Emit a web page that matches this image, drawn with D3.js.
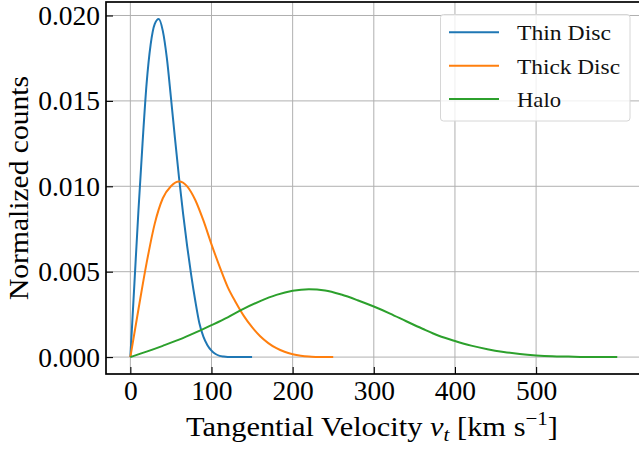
<!DOCTYPE html>
<html>
<head>
<meta charset="utf-8">
<script src="https://cdn.jsdelivr.net/npm/d3@7"></script>
<style>
  html, body { margin: 0; padding: 0; background: #fff; }
  svg { display: block; }
  svg text { font-family: "Liberation Serif", "Times New Roman", "DejaVu Serif", serif; }
</style>
</head>
<body>
<svg id="chart" width="639" height="449"></svg>
<script>
// ---- data ----
const xTicks = [0, 100, 200, 300, 400, 500];
const yTicks = [0.000, 0.005, 0.010, 0.015, 0.020];

const seriesNames = ["Thin Disc", "Thick Disc", "Halo"];
const seriesColors = ["#1f77b4", "#ff7f0e", "#2ca02c"];

const thinV = [0, 5, 10, 15, 20, 25, 30, 35, 40, 45, 50, 55, 60, 65, 70, 75, 80, 85, 90, 95, 100, 105, 110, 115, 120, 130, 140, 150];
const thinY = [0, 0.0043, 0.0086, 0.0125, 0.0160, 0.0183, 0.0195, 0.0198, 0.0191, 0.0175, 0.0152, 0.0128, 0.0105, 0.0084, 0.0065, 0.0048, 0.0033, 0.0020, 0.0012, 0.0007, 0.00038, 0.00018, 0.00007, 0.00003, 0.00001, 0, 0, 0];

const thickV = [0, 10, 20, 30, 40, 50, 60, 70, 80, 90, 100, 110, 120, 130, 140, 150, 160, 170, 180, 190, 200, 210, 220, 230, 240, 250];
const thickY = [0, 0.0028, 0.0055, 0.0078, 0.0093, 0.0100, 0.01028, 0.0100, 0.0092, 0.0080, 0.0066, 0.0053, 0.0041, 0.0032, 0.0024, 0.00175, 0.00122, 0.00082, 0.00052, 0.00031, 0.00017, 0.00008, 0.00003, 0.00001, 0, 0];

const haloV = [0, 20, 40, 60, 80, 100, 120, 140, 160, 180, 200, 220, 240, 260, 280, 300, 320, 340, 360, 380, 400, 420, 440, 460, 480, 500, 520, 540, 560, 580, 600];
const haloY = [0, 0.00032, 0.00066, 0.00102, 0.00143, 0.00187, 0.00233, 0.00284, 0.00328, 0.00364, 0.00388, 0.00397, 0.00390, 0.00366, 0.00333, 0.00296, 0.00255, 0.00210, 0.00166, 0.00125, 0.00094, 0.00067, 0.00046, 0.00030, 0.00018, 0.00010, 0.00005, 0.00003, 0.00001, 0.00001, 0];

const seriesV = [thinV, thickV, haloV];
const seriesY = [thinY, thickY, haloY];

// ---- layout ----
const svg = d3.select("#chart");
const pL = 106, pR = 641.6, pT = 2, pB = 374;

const x = d3.scaleLinear().domain([-30, 630]).range([pL, pR]);
const y = d3.scaleLinear().domain([-0.00099, 0.02079]).range([pB, pT]);

// grid
const grid = svg.append("g");
grid.selectAll("line.vg").data(xTicks).join("line")
  .attr("x1", d => x(d)).attr("x2", d => x(d))
  .attr("y1", pT).attr("y2", pB)
  .attr("stroke", "#b0b0b0").attr("stroke-width", 1);
grid.selectAll("line.hg").data(yTicks).join("line")
  .attr("x1", pL).attr("x2", pR)
  .attr("y1", d => y(d)).attr("y2", d => y(d))
  .attr("stroke", "#b0b0b0").attr("stroke-width", 1);

// lines
const line = d3.line().x(d => x(d[0])).y(d => y(d[1])).curve(d3.curveMonotoneX);
seriesNames.forEach((name, i) => {
  const pts = seriesV[i].map((v, j) => [v, seriesY[i][j]]);
  svg.append("path").datum(pts)
    .attr("d", line)
    .attr("fill", "none")
    .attr("stroke", seriesColors[i])
    .attr("stroke-width", 2)
    .attr("stroke-linejoin", "round");
});

// axes
const xAxis = d3.axisBottom(x).tickValues(xTicks).tickFormat(d3.format("d")).tickSize(-7).tickPadding(6);
const yAxis = d3.axisLeft(y).tickValues(yTicks).tickFormat(d3.format(".3f")).tickSize(-7).tickPadding(6);

const gx = svg.append("g").attr("transform", `translate(0,${pB})`).call(xAxis);
const gy = svg.append("g").attr("transform", `translate(${pL},0)`).call(yAxis);
[gx, gy].forEach(g => {
  g.attr("font-family", null).attr("font-size", null);
  g.select(".domain").remove();
  g.selectAll(".tick line").attr("stroke", "#000").attr("stroke-width", 1.1);
  g.selectAll(".tick text").attr("fill", "#000").style("font-size", "27.5px");
});
gy.selectAll(".tick text").attr("dy", "0.33em");

// spines
svg.append("rect")
  .attr("x", pL).attr("y", pT)
  .attr("width", pR - pL).attr("height", pB - pT)
  .attr("fill", "none").attr("stroke", "#000").attr("stroke-width", 1.7);

// legend
const lg = svg.append("g");
lg.append("rect")
  .attr("x", 440.5).attr("y", 14.5).attr("width", 189.5).attr("height", 106.5)
  .attr("rx", 3).attr("ry", 3)
  .attr("fill", "#fff").attr("fill-opacity", 0.8)
  .attr("stroke", "#d6d6d6").attr("stroke-width", 1);
const legY = [32.3, 65.7, 99];
const legW = [94, 103, 44];
seriesNames.forEach((name, i) => {
  lg.append("line")
    .attr("x1", 449).attr("x2", 499)
    .attr("y1", legY[i]).attr("y2", legY[i])
    .attr("stroke", seriesColors[i]).attr("stroke-width", 2);
  lg.append("text")
    .attr("x", 517).attr("y", legY[i] + 8)
    .attr("font-size", 22).attr("fill", "#111")
    .attr("textLength", legW[i]).attr("lengthAdjust", "spacingAndGlyphs")
    .text(name);
});

// axis labels
const xl = svg.append("text")
  .attr("x", 372).attr("y", 436)
  .attr("text-anchor", "middle")
  .attr("font-size", 27.5).attr("fill", "#000")
  .attr("textLength", 372).attr("lengthAdjust", "spacingAndGlyphs");
xl.append("tspan").text("Tangential Velocity ");
xl.append("tspan").attr("font-style", "italic").text("v");
xl.append("tspan").attr("font-style", "italic").attr("font-size", 19).attr("dy", 5).text("t");
xl.append("tspan").attr("dy", -5).text(" [km s");
xl.append("tspan").attr("font-size", 19).attr("dy", -11).text("−1");
xl.append("tspan").attr("dy", 11).text("]");

svg.append("text")
  .attr("transform", "translate(28,188) rotate(-90)")
  .attr("text-anchor", "middle")
  .attr("font-size", 27.5).attr("fill", "#000")
  .attr("textLength", 224).attr("lengthAdjust", "spacingAndGlyphs")
  .text("Normalized counts");
</script>
</body>
</html>
